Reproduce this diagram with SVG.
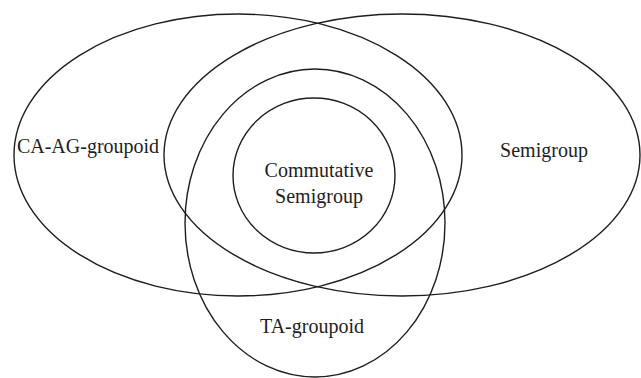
<svg xmlns="http://www.w3.org/2000/svg" width="641" height="378" viewBox="0 0 641 378">
<style>
.set{fill:none;stroke:#1e1e1e;stroke-width:1.4}
.lbl{font-family:"Liberation Serif","Times New Roman",serif;font-size:20px;fill:#1e1e1e;text-anchor:middle}
</style>
<rect width="641" height="378" fill="#ffffff"/>
<g id="ca-ag-groupoid">
<ellipse class="set" cx="238" cy="155" rx="224" ry="141"/>
<text class="lbl" x="88" y="153">CA-AG-groupoid</text>
</g>
<g id="semigroup">
<ellipse class="set" cx="402" cy="155" rx="238" ry="141"/>
<text class="lbl" x="544" y="157">Semigroup</text>
</g>
<g id="ta-groupoid">
<ellipse class="set" cx="315" cy="223" rx="130" ry="154"/>
<text class="lbl" x="312" y="333">TA-groupoid</text>
</g>
<g id="commutative-semigroup">
<ellipse class="set" cx="314" cy="175.5" rx="81" ry="77.5"/>
<text class="lbl" x="319" y="177">Commutative</text>
<text class="lbl" x="319" y="203">Semigroup</text>
</g>
<g id="connectors"/>
</svg>
